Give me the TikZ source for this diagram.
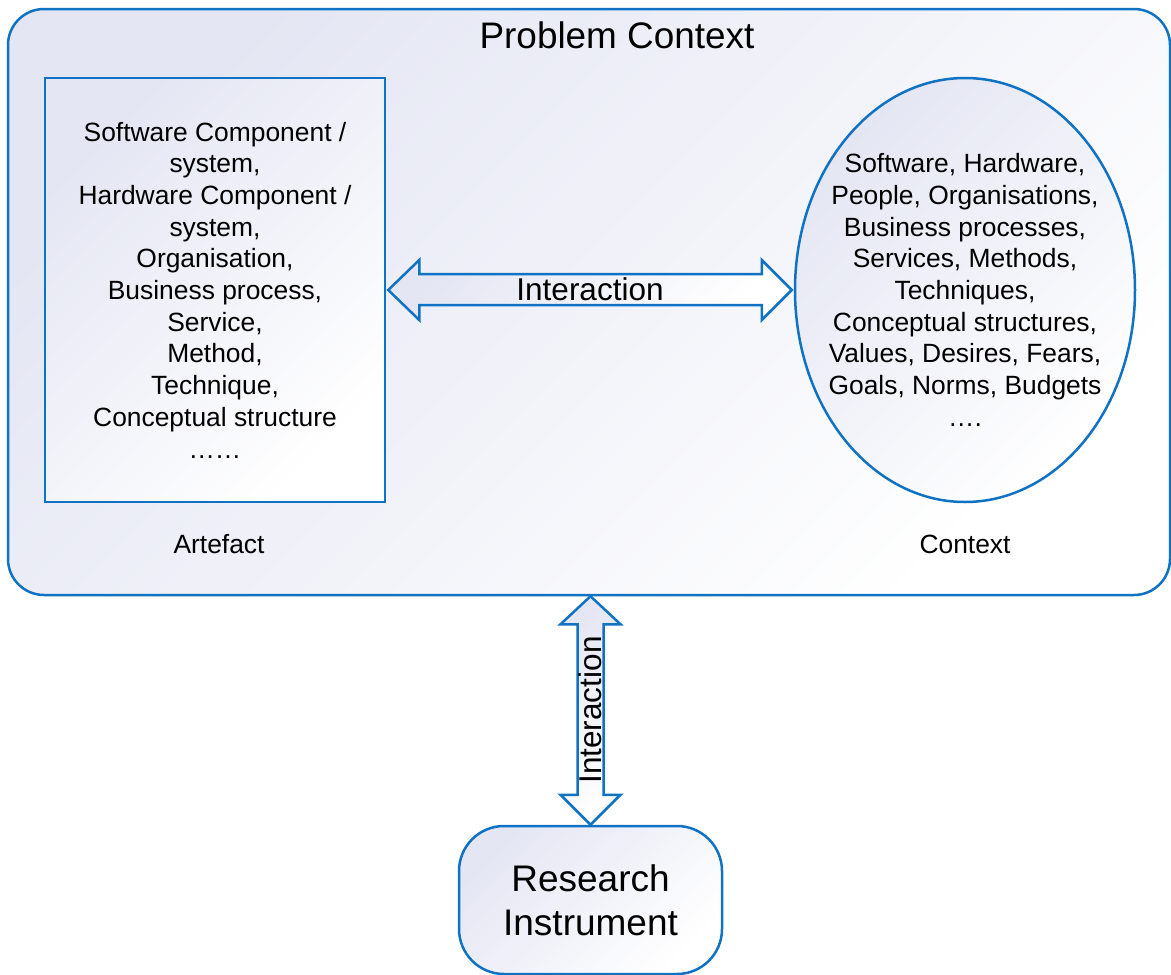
\documentclass[tikz,border=0pt]{standalone}
\usepackage{fontspec}
\setmainfont{Liberation Sans}
\usetikzlibrary{shapes.geometric,calc}
\definecolor{edge}{RGB}{16,114,196}
\definecolor{lav}{RGB}{228,230,243}
\tikzset{
  grad/.style={top color=lav, bottom color=white, shading angle=45},
  box/.style={draw=edge, line width=2.5pt, grad, inner sep=0pt},
  bodytext/.style={align=center, font=\fontsize{26.4}{31.7}\selectfont, inner sep=0pt},
  arrowshape/.style={draw=edge, line width=2.5pt, line join=miter, grad},
}
\begin{document}
\begin{tikzpicture}[x=1pt,y=-1pt]
\useasboundingbox (0,0) rectangle (1171,975);
% outer context
\node[box, rounded corners=36pt, minimum width=1162pt, minimum height=586pt] (outer) at (589,302) {};
\node[font=\fontsize{36.9}{44}\selectfont, inner sep=0pt] (title) at (617,35) {Problem Context};
% artefact box
\node[box, minimum width=340pt, minimum height=424pt] (art) at (215,290) {};
\node[bodytext] (arttext) at (215,290) {Software Component /\\system,\\Hardware Component /\\system,\\Organisation,\\Business process,\\Service,\\Method,\\Technique,\\Conceptual structure\\……};
\node[font=\fontsize{26.4}{31.7}\selectfont, inner sep=0pt] (artlabel) at (219,544) {Artefact};
% context ellipse
\node[box, ellipse, minimum width=340pt, minimum height=424pt] (ctx) at (965,290) {};
\node[bodytext] (ctxtext) at (965,290) {Software, Hardware,\\People, Organisations,\\Business processes,\\Services, Methods,\\Techniques,\\Conceptual structures,\\Values, Desires, Fears,\\Goals, Norms, Budgets\\….};
\node[font=\fontsize{26.4}{31.7}\selectfont, inner sep=0pt] (ctxlabel) at (965,544) {Context};
% research instrument
\node[box, rounded corners=45pt, minimum width=263pt, minimum height=148pt] (ri) at (590.5,900) {};
\node[align=center, font=\fontsize{37}{44}\selectfont, inner sep=0pt] (ritext) at (590.5,900) {Research\\Instrument};
% horizontal double arrow
\coordinate (hl) at ($(art.east)+(2,0)$);
\coordinate (hr) at ($(ctx.west)+(-2,0)$);
\path[arrowshape] (hl) -- ($(hl)+(31,-30)$) -- ($(hl)+(31,-16)$) -- ($(hr)+(-30,-16)$) -- ($(hr)+(-30,-30)$) -- (hr)
  -- ($(hr)+(-30,30)$) -- ($(hr)+(-30,15)$) -- ($(hl)+(31,15)$) -- ($(hl)+(31,30)$) -- cycle;
\node[font=\fontsize{31.5}{36}\selectfont, inner sep=0pt] (hlabel) at (590,289) {Interaction};
% vertical double arrow
\coordinate (vt) at (outer.south -| ri.north);
\coordinate (vb) at (ri.north);
\path[arrowshape] (vt) -- ($(vt)+(30,28)$) -- ($(vt)+(13,28)$) -- ($(vb)+(13,-30)$) -- ($(vb)+(30,-30)$) -- (vb)
  -- ($(vb)+(-30,-30)$) -- ($(vb)+(-13,-30)$) -- ($(vt)+(-13,28)$) -- ($(vt)+(-30,28)$) -- cycle;
\node[font=\fontsize{31.5}{36}\selectfont, inner sep=0pt, rotate=90] (vlabel) at (590,710) {Interaction};
\end{tikzpicture}
\end{document}
